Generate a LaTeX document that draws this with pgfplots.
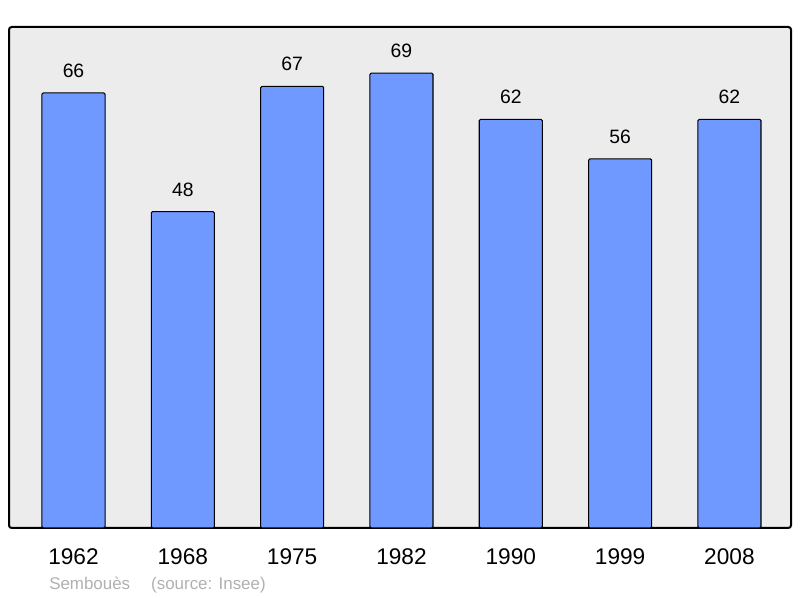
\documentclass[border=0pt]{standalone}
\usepackage{pgfplots}
\pgfplotsset{compat=1.18}
\usepackage{fontspec}
\setmainfont{Liberation Sans}
\definecolor{barblue}{RGB}{112,153,255}
\definecolor{bggray}{RGB}{236,236,236}
\definecolor{srcgray}{RGB}{176,176,176}
\begin{document}
\begin{tikzpicture}
\useasboundingbox (0pt,0pt) rectangle (600pt,448.5pt);
\begin{axis}[
  at={(6.75pt,52.5pt)}, anchor=south west,
  scale only axis,
  width=586.5pt, height=375.75pt,
  xmin=-0.59, xmax=6.563,
  ymin=0, ymax=76,
  axis background/.style={fill=bggray},
  axis line style={line width=1.5pt, rounded corners=2pt},
  ytick=\empty,
  xtick=data,
  xticklabels={1962,1968,1975,1982,1990,1999,2008},
  major tick length=0pt,
  xticklabel style={font=\fontsize{17}{20}\selectfont, anchor=center, yshift=-21.75pt},
  ybar, bar width=0.577,
  nodes near coords,
  /pgf/number format/assume math mode=true,
  every node near coord/.append style={font=\fontsize{14.5}{17}\selectfont, anchor=center, yshift=16.5pt, black},
]
\addplot[fill=barblue, draw=black, line width=0.8pt, rounded corners=1pt] coordinates {
(0,66) (1,48) (2,67) (3,69) (4,62) (5,56) (6,62)};
\end{axis}
\node[anchor=west, text=srcgray, font=\fontsize{12.7}{15}\selectfont, inner sep=0pt] at (36.75pt,9.75pt) {Sembouès\hspace{15.75pt}(source: Insee)};
\end{tikzpicture}
\end{document}
